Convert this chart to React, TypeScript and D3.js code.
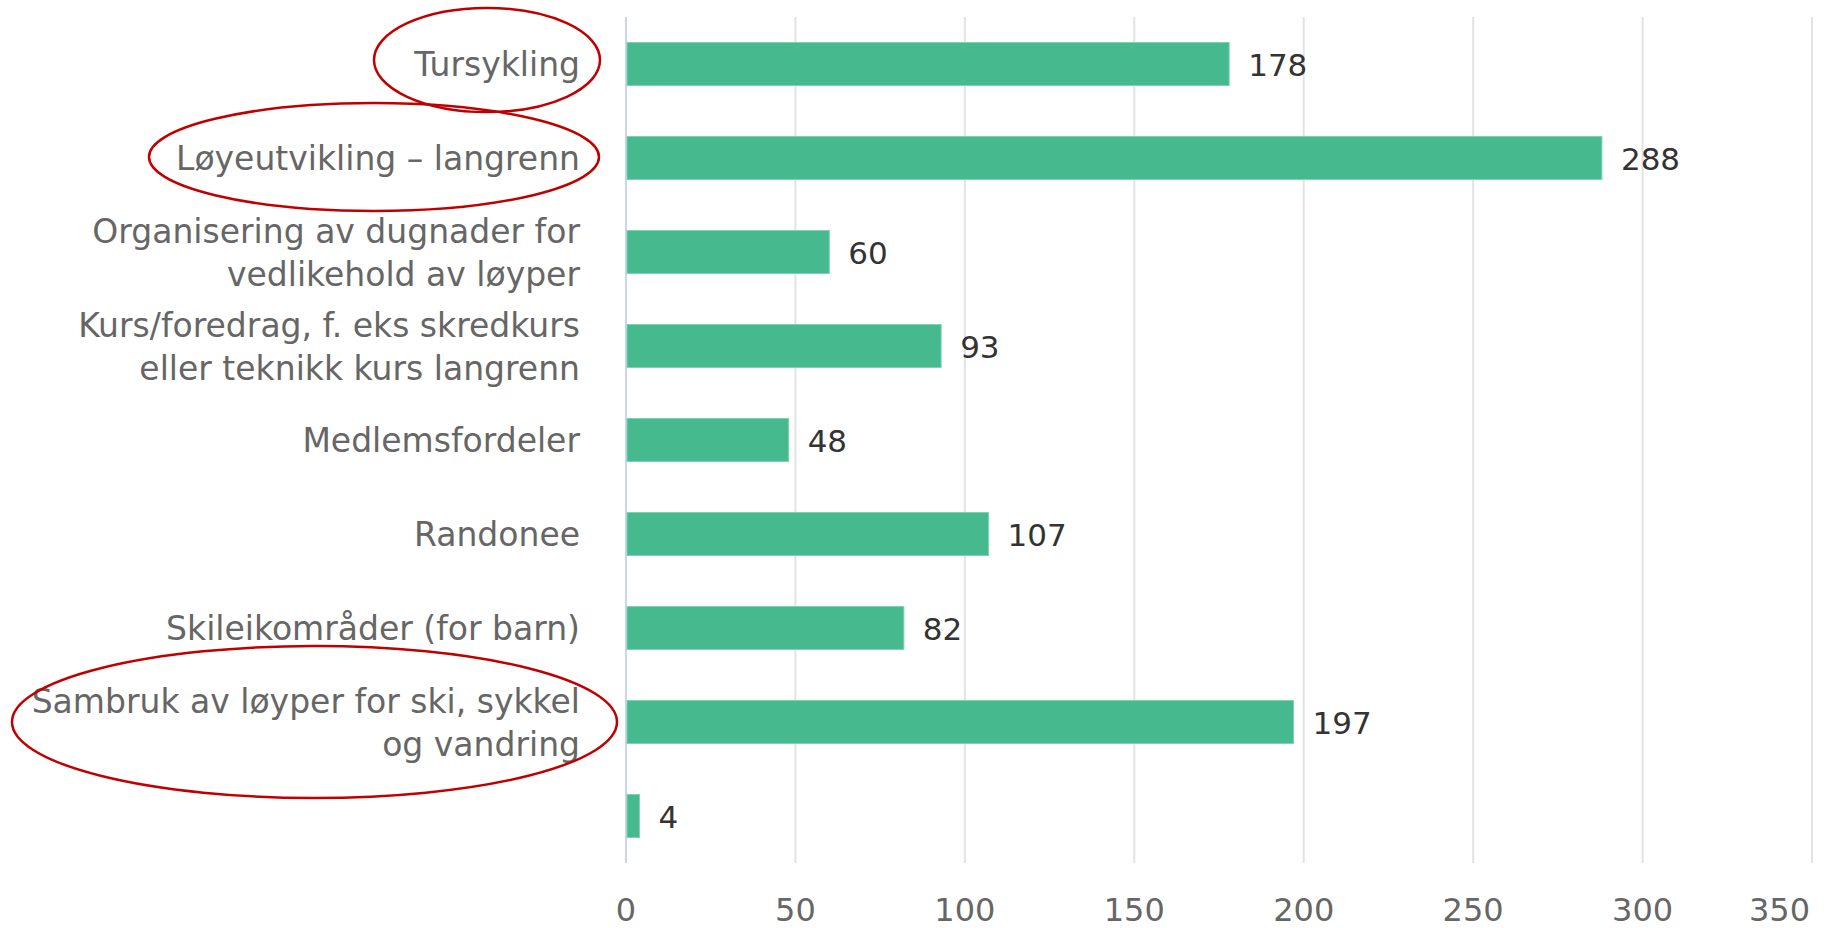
import React from "react";
import * as d3 from "d3";

const categories: string[] = [
  "Tursykling",
  "Løyeutvikling – langrenn",
  "Organisering av dugnader for\nvedlikehold av løyper",
  "Kurs/foredrag, f. eks skredkurs\neller teknikk kurs langrenn",
  "Medlemsfordeler",
  "Randonee",
  "Skileikområder (for barn)",
  "Sambruk av løyper for ski, sykkel\nog vandring",
  "",
];
const values: number[] = [178, 288, 60, 93, 48, 107, 82, 197, 4];
const ticks: number[] = [0, 50, 100, 150, 200, 250, 300, 350];
// hand-drawn annotation ellipses around highlighted categories (index of category)
const highlighted: number[] = [0, 1, 7];

const W = 1825;
const H = 928;
const FONT = "'DejaVu Sans', 'Lucida Grande', sans-serif";

// annotation shapes (left/right extents and vertical radius, offset from category centre)
const ANNOT: Record<number, { left: number; right: number; ry: number; dy: number }> = {
  0: { left: 374, right: 600, ry: 52, dy: -4 },
  1: { left: 149, right: 599, ry: 54, dy: -1 },
  7: { left: 12, right: 617, ry: 76, dy: 0 },
};

export default function App() {
  const x = d3.scaleLinear().domain([0, 350]).range([626, 1812]);
  const y = d3
    .scaleBand<number>()
    .domain(d3.range(categories.length))
    .range([17, 863])
    .paddingInner(0)
    .paddingOuter(0);
  const step = y.step();
  const barH = 43;
  const cy = (i: number) => (y(i) as number) + step / 2;

  return (
    <div style={{ position: "fixed", left: 0, top: 0, width: W, height: H, background: "#fff" }}>
      <svg width={W} height={H} style={{ display: "block", fontFamily: FONT }}>
        <rect width={W} height={H} fill="#ffffff" />
        {ticks.map((t) => (
          <line
            key={"g" + t}
            x1={x(t)}
            x2={x(t)}
            y1={17}
            y2={863}
            stroke={t === 0 ? "#ccd6eb" : "#e3e3e3"}
            strokeWidth={2}
          />
        ))}
        {values.map((v, i) => (
          <rect
            key={"b" + i}
            x={x(0) + 1}
            y={cy(i) - barH / 2}
            width={Math.max(0, x(v) - x(0) - 1)}
            height={barH}
            fill="#46b98f"
            stroke="#7fd3b4"
            strokeWidth={1}
          />
        ))}
        {values.map((v, i) => (
          <text
            key={"v" + i}
            x={x(v) + 19}
            y={cy(i) + 12}
            fontSize={31}
            fill="#333333"
          >
            {v}
          </text>
        ))}
        {categories.map((c, i) => {
          const lines = c.split("\n");
          const lh = 43;
          return (
            <text key={"c" + i} textAnchor="end" fontSize={33} fill="#666666">
              {lines.map((l, j) => (
                <tspan
                  key={j}
                  x={580}
                  y={cy(i) + 12 + (j - (lines.length - 1) / 2) * lh}
                >
                  {l}
                </tspan>
              ))}
            </text>
          );
        })}
        {ticks.map((t) => {
          const px = x(t);
          const overflow = px + 31 > W - 4;
          return (
            <text
              key={"t" + t}
              x={overflow ? px - 2 : px}
              y={921}
              textAnchor={overflow ? "end" : "middle"}
              fontSize={32}
              fill="#666666"
            >
              {t}
            </text>
          );
        })}
        {highlighted.map((i) => {
          const a = ANNOT[i];
          const rx = (a.right - a.left) / 2;
          return (
            <ellipse
              key={"e" + i}
              cx={a.left + rx}
              cy={cy(i) + a.dy}
              rx={rx}
              ry={a.ry}
              fill="none"
              stroke="#c00000"
              strokeWidth={2.5}
            />
          );
        })}
      </svg>
    </div>
  );
}
